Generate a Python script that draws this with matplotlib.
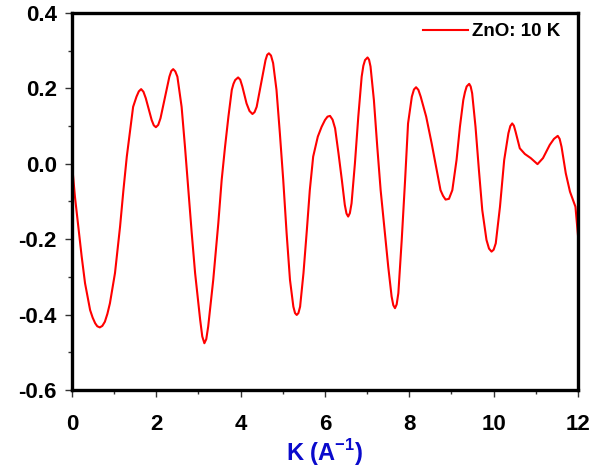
import matplotlib.pyplot as plt
from matplotlib.ticker import MultipleLocator

plt.rcParams['font.family'] = ['Liberation Sans', 'DejaVu Sans']
plt.rcParams['mathtext.fontset'] = 'custom'
plt.rcParams['mathtext.bf'] = 'Liberation Sans:bold'
plt.rcParams['mathtext.rm'] = 'Liberation Sans'

# values, k in A^-1
k = [0.0, 0.07, 0.15, 0.23, 0.31, 0.43, 0.49, 0.55, 0.60, 0.66,
     0.72, 0.78, 0.84, 0.90, 1.02, 1.14, 1.22, 1.30, 1.38, 1.45,
     1.53, 1.585, 1.64, 1.695, 1.75, 1.89, 1.94, 1.99, 2.045, 2.10,
     2.21, 2.31, 2.355, 2.40, 2.45, 2.50, 2.60, 2.68, 2.76, 2.84,
     2.92, 3.04, 3.09, 3.14, 3.185, 3.23, 3.35, 3.47, 3.55, 3.63,
     3.71, 3.79, 3.83, 3.87, 3.94, 3.99, 4.04, 4.14, 4.21, 4.28,
     4.33, 4.38, 4.50, 4.59, 4.63, 4.67, 4.72, 4.77, 4.85, 4.93,
     5.01, 5.09, 5.17, 5.25, 5.29, 5.33, 5.37, 5.41, 5.49, 5.57,
     5.64, 5.72, 5.83, 5.92, 6.00, 6.06, 6.12, 6.18, 6.24, 6.32,
     6.40, 6.47, 6.51, 6.55, 6.59, 6.63, 6.71, 6.79, 6.87, 6.91,
     6.95, 7.01, 7.045, 7.08, 7.16, 7.24, 7.32, 7.42, 7.50, 7.58,
     7.62, 7.66, 7.70, 7.74, 7.82, 7.90, 7.97, 8.06, 8.11, 8.16,
     8.215, 8.27, 8.40, 8.53, 8.65, 8.74, 8.80, 8.86, 8.94, 9.02,
     9.12, 9.20, 9.28, 9.32, 9.36, 9.42, 9.455, 9.49, 9.57, 9.65,
     9.73, 9.83, 9.89, 9.95, 10.00, 10.05, 10.15, 10.25, 10.35, 10.395,
     10.44, 10.48, 10.52, 10.62, 10.74, 10.88, 11.04, 11.17, 11.33, 11.43,
     11.52, 11.565, 11.61, 11.71, 11.81, 11.94, 12.0]
chi = [0.0, -0.087, -0.167, -0.246, -0.317, -0.388, -0.408, -0.423, -0.431, -0.434,
       -0.430, -0.419, -0.398, -0.370, -0.29, -0.167, -0.07, 0.019, 0.09, 0.151,
       0.178, 0.192, 0.198, 0.191, 0.174, 0.116, 0.102, 0.097, 0.103, 0.121,
       0.178, 0.231, 0.246, 0.251, 0.245, 0.231, 0.151, 0.045, -0.07, -0.184,
       -0.29, -0.414, -0.458, -0.476, -0.465, -0.432, -0.308, -0.158, -0.043, 0.045,
       0.125, 0.196, 0.212, 0.222, 0.229, 0.223, 0.205, 0.16, 0.14, 0.132,
       0.137, 0.151, 0.222, 0.275, 0.289, 0.293, 0.287, 0.267, 0.196, 0.081,
       -0.043, -0.184, -0.308, -0.379, -0.396, -0.401, -0.396, -0.379, -0.29, -0.176,
       -0.07, 0.019, 0.072, 0.098, 0.116, 0.125, 0.127, 0.117, 0.094, 0.028,
       -0.043, -0.109, -0.132, -0.14, -0.131, -0.105, 0.001, 0.125, 0.231, 0.26,
       0.275, 0.282, 0.276, 0.258, 0.169, 0.045, -0.07, -0.184, -0.273, -0.352,
       -0.375, -0.383, -0.373, -0.343, -0.202, -0.043, 0.107, 0.178, 0.197, 0.203,
       0.196, 0.178, 0.125, 0.054, -0.016, -0.07, -0.085, -0.095, -0.093, -0.07,
       0.01, 0.098, 0.169, 0.19, 0.205, 0.212, 0.205, 0.187, 0.098, -0.016,
       -0.123, -0.202, -0.225, -0.233, -0.228, -0.211, -0.114, 0.01, 0.081, 0.100,
       0.107, 0.101, 0.085, 0.041, 0.026, 0.015, -0.001, 0.015, 0.05, 0.066,
       0.074, 0.066, 0.045, -0.025, -0.074, -0.114, -0.19]

fig = plt.figure(figsize=(5.89, 4.68), dpi=100)
ax = fig.add_axes([0.1222, 0.1667, 0.8591, 0.8056])

ax.plot(k, chi, color='#ff0000', lw=1.5, label='ZnO: 10 K',
        solid_joinstyle='round')

ax.set_xlim(0, 12)
ax.set_ylim(-0.6, 0.4)
ax.xaxis.set_major_locator(MultipleLocator(2))
ax.xaxis.set_minor_locator(MultipleLocator(1))
ax.yaxis.set_minor_locator(MultipleLocator(0.1))
ax.set_yticks([-0.6, -0.4, -0.2, 0.0, 0.2, 0.4])
ax.set_yticklabels(['-0.6', '-0.4', '-0.2', '0.0', '0.2', '0.4'])

ax.tick_params(which='both', direction='out', top=False, right=False,
               color='#333333', width=1)
ax.tick_params(which='major', length=5, labelsize=16, pad=6)
ax.tick_params(axis='x', which='major', pad=12)
ax.tick_params(which='minor', length=3)
for lab in ax.get_xticklabels() + ax.get_yticklabels():
    lab.set_fontweight('bold')

for s in ax.spines.values():
    s.set_linewidth(2.4)

ax.set_xlabel('K (A$^{\\mathbf{-1}}$)', fontsize=17, fontweight='bold',
              color='#0a0acc', labelpad=2)

ax.legend(loc='upper right', bbox_to_anchor=(0.985, 1.0), frameon=False,
          handlelength=2.4, prop={'weight': 'bold', 'size': 13.5},
          borderaxespad=0.15, handletextpad=0.2)

fig.savefig('out.png', dpi=100)
